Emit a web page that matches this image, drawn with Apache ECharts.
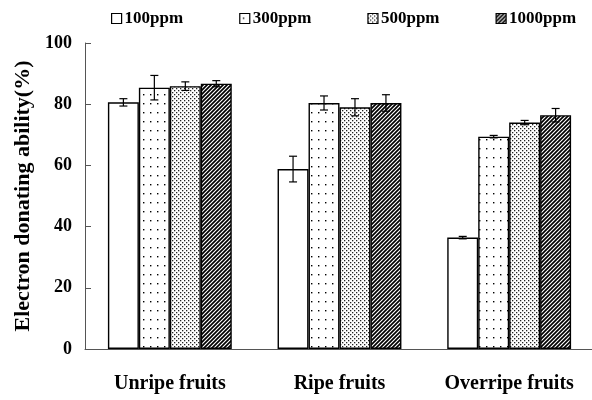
<!DOCTYPE html>
<html><head><meta charset="utf-8">
<script src="https://cdn.jsdelivr.net/npm/echarts@6/dist/echarts.min.js"></script>
<style>html,body{margin:0;padding:0;background:#fff}#c{width:592px;height:400px}</style>
</head><body><div id="c"></div>
<script>
const categories = ['Unripe fruits', 'Ripe fruits', 'Overripe fruits'];
const seriesNames = ['100ppm', '300ppm', '500ppm', '1000ppm'];
const values100 = [80.6, 58.8, 36.4];
const values300 = [85.4, 80.4, 69.4];
const values500 = [85.9, 79.0, 74.0];
const values1000 = [86.7, 80.4, 76.4];
const err100 = [1.2, 4.2, 0.4];
const err300 = [4.0, 2.3, 0.4];
const err500 = [1.4, 2.8, 0.7];
const err1000 = [1.0, 2.7, 2.2];
const yTicks = [0, 20, 40, 60, 80, 100];

const allValues = [values100, values300, values500, values1000];
const allErr = [err100, err300, err500, err1000];

function makePattern(kind) {
  const cv = document.createElement('canvas');
  const ctx = cv.getContext('2d');
  if (kind === 'sparse') {
    cv.width = 7; cv.height = 9;
    ctx.fillStyle = '#fff'; ctx.fillRect(0, 0, 7, 9);
    ctx.fillStyle = '#000'; ctx.fillRect(3, 4, 1.4, 1.4);
  } else if (kind === 'dense') {
    cv.width = 4; cv.height = 4;
    ctx.fillStyle = '#fff'; ctx.fillRect(0, 0, 4, 4);
    ctx.fillStyle = '#222';
    ctx.fillRect(0, 0, 1.3, 1.3); ctx.fillRect(2, 2, 1.3, 1.3);
  } else if (kind === 'hatch') {
    cv.width = 4; cv.height = 4;
    ctx.fillStyle = '#fff'; ctx.fillRect(0, 0, 4, 4);
    ctx.strokeStyle = '#000'; ctx.lineWidth = 1.7;
    ctx.beginPath();
    ctx.moveTo(-1, 5); ctx.lineTo(5, -1);
    ctx.moveTo(-1, 1); ctx.lineTo(1, -1);
    ctx.moveTo(3, 5); ctx.lineTo(5, 3);
    ctx.stroke();
  } else {
    cv.width = 2; cv.height = 2;
    ctx.fillStyle = '#fff'; ctx.fillRect(0, 0, 2, 2);
  }
  return { image: cv, repeat: 'repeat' };
}
const fills = [makePattern('white'), makePattern('sparse'), makePattern('dense'), makePattern('hatch')];
const catGap = 0.27;
const font = '"Liberation Serif", "Times New Roman", serif';

const series = [];
seriesNames.forEach((name, i) => {
  series.push({
    name: name, type: 'bar', data: allValues[i],
    barGap: '0%', barCategoryGap: (catGap * 100) + '%',
    itemStyle: { color: fills[i], borderColor: '#000', borderWidth: 1.4 },
    emphasis: { disabled: true }, z: 2
  });
});
seriesNames.forEach((name, i) => {
  series.push({
    type: 'custom', z: 5, silent: true,
    data: allValues[i].map((v, k) => [k, v, allErr[i][k]]),
    renderItem: function (params, api) {
      const cat = api.value(0), v = api.value(1), e = api.value(2);
      const band = api.size([1, 0])[0];
      const barW = band * (1 - catGap) / 4;
      const off = (i - 1.5) * barW;
      const top = api.coord([cat, v + e]);
      const bot = api.coord([cat, v - e]);
      const x = top[0] + off;
      const cap = 4;
      const st = { stroke: '#000', lineWidth: 1.2 };
      return { type: 'group', children: [
        { type: 'line', shape: { x1: x, y1: top[1], x2: x, y2: bot[1] }, style: st },
        { type: 'line', shape: { x1: x - cap, y1: top[1], x2: x + cap, y2: top[1] }, style: st },
        { type: 'line', shape: { x1: x - cap, y1: bot[1], x2: x + cap, y2: bot[1] }, style: st }
      ]};
    }
  });
});

const chart = echarts.init(document.getElementById('c'), null, { renderer: 'canvas' });
chart.setOption({
  animation: false,
  backgroundColor: '#fff',
  legend: {
    data: seriesNames.map(n => ({ name: n, icon: 'rect' })),
    top: 5, left: 106, itemGap: 56, itemWidth: 10, itemHeight: 10,
    textStyle: { fontFamily: font, fontWeight: 'bold', fontSize: 17, color: '#000', padding: [0, 0, 0, -2] },
    itemStyle: { borderColor: '#000', borderWidth: 1.2 }
  },
  grid: { left: 85, right: -2, top: 43, bottom: 51, containLabel: false, outerBoundsMode: 'none' },
  xAxis: {
    type: 'category', data: categories,
    axisLine: { lineStyle: { color: '#555', width: 1 } },
    axisTick: { inside: true, length: 7, lineStyle: { color: '#555' } },
    axisLabel: { fontFamily: font, fontWeight: 'bold', fontSize: 20, color: '#000', margin: 25 }
  },
  yAxis: {
    type: 'value', min: yTicks[0], max: yTicks[yTicks.length - 1], interval: 20,
    name: 'Electron donating ability(%)', nameLocation: 'middle', nameGap: 51,
    nameTextStyle: { fontFamily: font, fontWeight: 'bold', fontSize: 22, color: '#000' },
    axisLine: { show: true, lineStyle: { color: '#555', width: 1 } },
    axisTick: { show: true, inside: true, length: 6, lineStyle: { color: '#555' } },
    splitLine: { show: false },
    axisLabel: { fontFamily: font, fontWeight: 'bold', fontSize: 18, color: '#000', margin: 13 }
  },
  series: series
});
</script>
</body></html>
